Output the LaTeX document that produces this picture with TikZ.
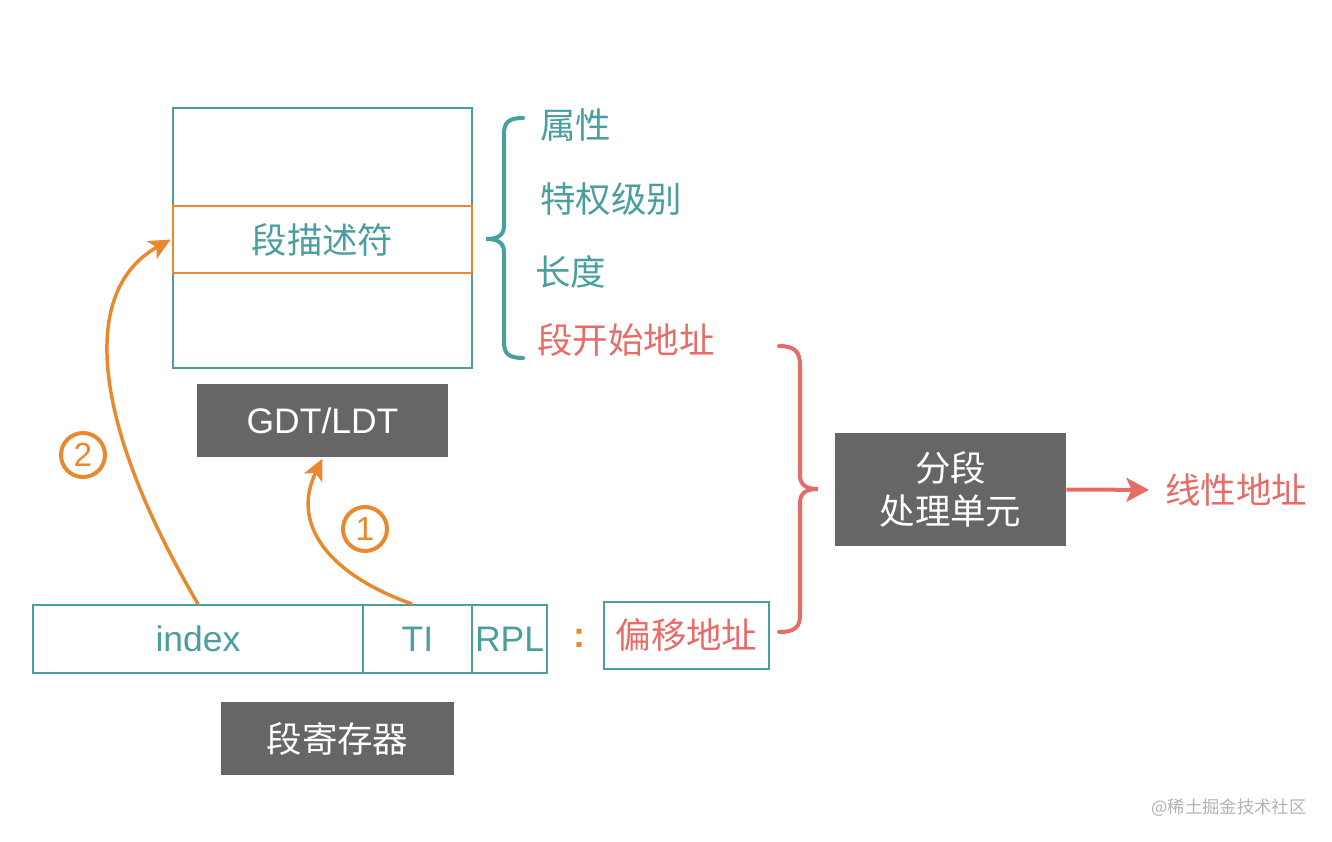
\documentclass[tikz,border=0pt]{standalone}
\usepackage{fontspec}
\setmainfont{Liberation Sans}
\newfontfamily\cjk{Noto Sans CJK SC}
\usetikzlibrary{arrows.meta}
\definecolor{myteal}{HTML}{4A9E9E}
\definecolor{myorange}{HTML}{E8892F}
\definecolor{myred}{HTML}{E76B67}
\definecolor{mygray}{HTML}{666666}
\tikzset{
  box/.style={draw=myteal, line width=1.5pt, inner sep=0pt, text=myteal},
  dark/.style={fill=mygray, draw=none, inner sep=0pt, text=white},
  lbl/.style={inner sep=0pt, anchor=west},
  num/.style={circle, draw=myorange, line width=3pt, text=myorange, minimum size=33pt, inner sep=0pt, font=\fontsize{25}{28}\selectfont},
  oarrow/.style={draw=myorange, line width=2.6pt, -{Stealth[length=16pt,width=15pt,inset=4pt]}},
  brace/.style={line width=3pt, line cap=round}
}
\begin{document}
\begin{tikzpicture}[x=0.75pt,y=-0.75pt, font=\fontsize{26.6}{32}\selectfont]
\useasboundingbox (0,0) rectangle (1332,842);
% descriptor table
\node[box, minimum width=224.25pt, minimum height=195pt] (tbl) at (322.5,238) {};
\node[draw=myorange, line width=1.5pt, inner sep=0pt, text=myteal, minimum width=224.25pt, minimum height=50.25pt] (desc) at (322.5,239.5) {\cjk 段描述符};
\node[dark, minimum width=188.25pt, minimum height=54.75pt] (gdt) at (322.5,420.5) {GDT/LDT};
% fields
\node[lbl, text=myteal] (attr) at (540,125) {\cjk 属性};
\node[lbl, text=myteal] (priv) at (540,199) {\cjk 特权级别};
\node[lbl, text=myteal] (len) at (535,272) {\cjk 长度};
\node[lbl, text=myred] (base) at (537,340) {\cjk 段开始地址};
\draw[brace, draw=myteal] (523,118) .. controls (509,118) and (504,122) .. (504,134) -- (504,226) .. controls (504,235) and (498,239) .. (486,239) .. controls (498,239) and (504,243) .. (504,252) -- (504,342) .. controls (504,354) and (509,358) .. (523,358);
% segment register
\node[box, minimum width=247.5pt, minimum height=51pt] (idx) at (198,639) {index};
\node[box, minimum width=81.75pt, minimum height=51pt] (ti) at (417.5,639) {TI};
\node[box, minimum width=56.25pt, minimum height=51pt] (rpl) at (509.5,639) {RPL};
\node[inner sep=0pt, text=myorange, font=\fontsize{27}{30}\selectfont\bfseries] (colon) at (579,638) {:};
\node[box, text=myred, minimum width=123.75pt, minimum height=50.25pt] (off) at (686.5,635.5) {\cjk 偏移地址};
\node[dark, minimum width=174.75pt, minimum height=54.75pt] (sreg) at (337.5,738.5) {\cjk 段寄存器};
% arrows
\draw[oarrow] (idx.north) .. controls (90,420) and (80,290) .. ([xshift=-1pt]desc.west);
\draw[oarrow] ([xshift=-4pt]ti.north) .. controls (330,575) and (290,525) .. ([yshift=-1pt]gdt.south);
\node[num] (n2) at (83,455) {2};
\node[num] (n1) at (365,529) {1};
% segmentation unit
\draw[brace, draw=myred] (779,346) .. controls (795,346) and (800,352) .. (800,365) -- (800,475) .. controls (800,485) and (806,489) .. (818,489) .. controls (806,489) and (800,493) .. (800,503) -- (800,615) .. controls (800,627) and (795,632) .. (779,632);
\node[dark, minimum width=173.25pt, minimum height=84.75pt, align=center, font=\fontsize{26.6}{32}\selectfont\cjk] (seg) at (950.5,489.5) {分段\\处理单元};
\node[lbl, text=myred] (lin) at (1165,490) {\cjk 线性地址};
\draw[draw=myred, line width=3pt, -{Stealth[length=17pt,width=18pt,inset=4pt]}, shorten >=12pt] (seg.east) -- (lin.west);
% watermark
\node[inner sep=0pt, text=black!30, font=\fontsize{13}{15}\selectfont\cjk] (wm) at (1229,808) {@稀土掘金技术社区};
\end{tikzpicture}
\end{document}
